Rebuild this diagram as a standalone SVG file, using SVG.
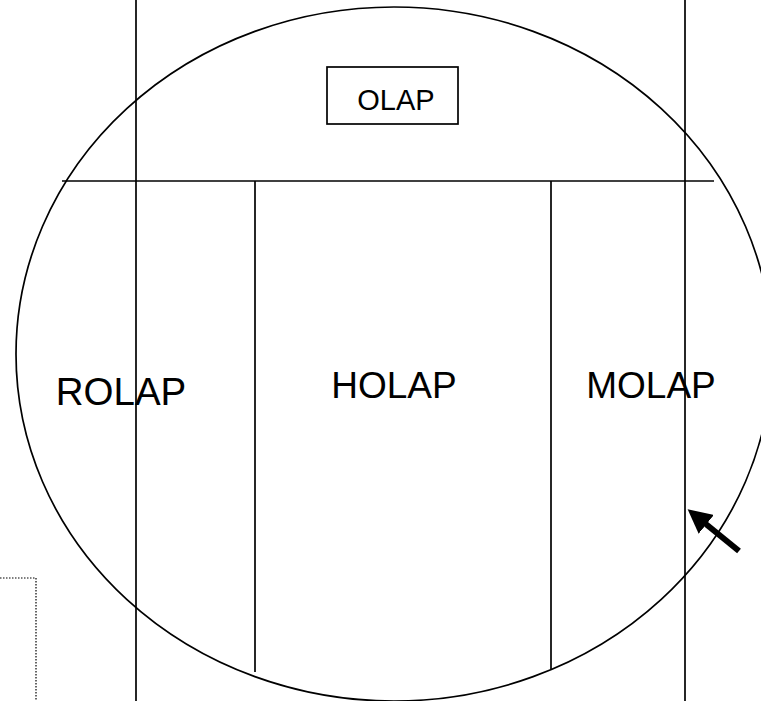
<svg xmlns="http://www.w3.org/2000/svg" width="761" height="701" viewBox="0 0 761 701">
<defs>
<style>
.ln{stroke:#000;stroke-width:1.7;fill:none}
.txt{font-family:"Liberation Sans",Arial,sans-serif;fill:#000}
</style>
<marker id="ah" markerWidth="4" markerHeight="4" refX="2.2" refY="2" orient="auto" markerUnits="strokeWidth">
<path d="M0,0 L4,2 L0,4 Z" fill="#000"/>
</marker>
</defs>
<rect width="761" height="701" fill="#fff"/>
<g id="connectors">
<line class="ln" x1="136" y1="0" x2="136" y2="701"/>
<line class="ln" x1="685" y1="0" x2="685" y2="701"/>
<line class="ln" x1="62" y1="181" x2="714" y2="181" stroke-width="2"/>
<line class="ln" x1="255" y1="181" x2="255" y2="672"/>
<line class="ln" x1="551" y1="181" x2="551" y2="669"/>
<line x1="739" y1="551" x2="696" y2="516" stroke="#000" stroke-width="6" marker-end="url(#ah)"/>
<polyline points="0,578 36,578 36,701" fill="none" stroke="#000" stroke-width="1.2" stroke-dasharray="1.5 1.5"/>
</g>
<g id="olap-circle">
<ellipse class="ln" cx="394" cy="354" rx="378" ry="347"/>
</g>
<g id="olap">
<rect x="327" y="67" width="131" height="57" fill="none" stroke="#000" stroke-width="1.7"/>
<text class="txt" x="396" y="110" font-size="29" text-anchor="middle">OLAP</text>
</g>
<g id="rolap"><text class="txt" x="121" y="405" font-size="38.5" text-anchor="middle">ROLAP</text></g>
<g id="holap"><text class="txt" x="394" y="398" font-size="37" text-anchor="middle">HOLAP</text></g>
<g id="molap"><text class="txt" x="651" y="398" font-size="37" text-anchor="middle">MOLAP</text></g>
</svg>
